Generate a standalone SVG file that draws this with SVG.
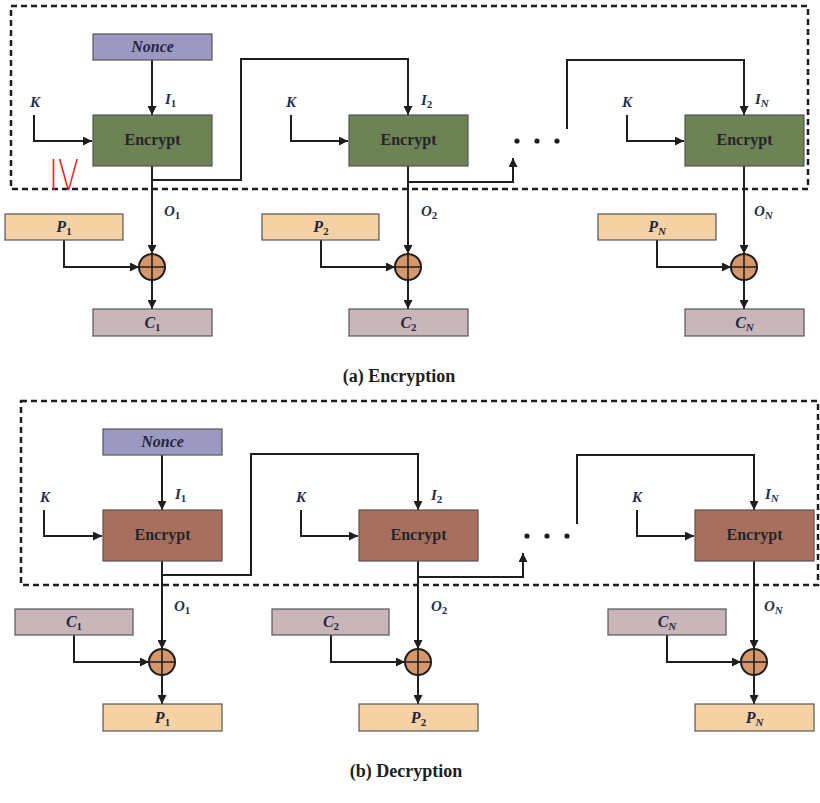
<svg xmlns="http://www.w3.org/2000/svg" width="820" height="803" viewBox="0 0 820 803">
<style>
.frame{fill:none;stroke:#1e1e1e;stroke-width:2.5;stroke-dasharray:6 4}
.box{stroke:#555;stroke-width:1.2}
.nonce{fill:#9b99c2}
.encA{fill:#6d8255}
.encB{fill:#a96f5e}
.pt{fill:#f4d2a4}
.ct{fill:#c9b6ba}
.xor{fill:#d5966b;stroke:#1e1e1e;stroke-width:2}
.xl{stroke:#1e1e1e;stroke-width:1.6}
.ln{fill:none;stroke:#1e1e1e;stroke-width:2}
.arr{fill:none;stroke:#1e1e1e;stroke-width:2;marker-end:url(#ah)}
.bt{font-family:"Liberation Serif",serif;font-weight:bold;font-size:16px;fill:#262626;text-anchor:middle}
.it{font-family:"Liberation Serif",serif;font-weight:bold;font-style:italic;font-size:16px;fill:#262640;text-anchor:middle}
.lb{font-family:"Liberation Serif",serif;font-weight:bold;font-style:italic;font-size:15px;fill:#23304a}
.sub{font-size:11px;font-style:normal}
.subi{font-size:11px}
.cap{font-family:"Liberation Serif",serif;font-weight:bold;font-size:18px;fill:#1e1e1e;text-anchor:middle}
.dot{fill:#1e1e1e}
</style>
<defs>
<marker id="ah" viewBox="0 0 10 10" refX="10" refY="5" markerWidth="4.5" markerHeight="4.5" orient="auto" markerUnits="strokeWidth">
<path d="M0,0 L10,5 L0,10 z" fill="#1e1e1e"/>
</marker>
</defs>
<rect x="0" y="0" width="820" height="803" fill="#ffffff"/>

<!-- ===== (a) Encryption ===== -->
<rect class="frame" x="11" y="6" width="797" height="183"/>

<g id="connectors-a">
<path class="arr" d="M152 60 V115"/>
<path class="arr" d="M34 115 V141 H92"/>
<path class="arr" d="M291 115 V141 H348"/>
<path class="arr" d="M627 115 V141 H684"/>
<path class="arr" d="M152 166 V254"/>
<path class="arr" d="M152 180 H241 V59 H408 V115"/>
<path class="arr" d="M408 166 V254"/>
<path class="arr" d="M408 182 H513 V158"/>
<path class="arr" d="M567 129 V60 H744 V115"/>
<path class="arr" d="M744 166 V254"/>
<path class="arr" d="M64 240 V267 H139"/>
<path class="arr" d="M321 240 V267 H395"/>
<path class="arr" d="M657 240 V267 H731"/>
<path class="arr" d="M152 280 V309"/>
<path class="arr" d="M408 280 V309"/>
<path class="arr" d="M744 280 V309"/>
<circle class="dot" cx="517" cy="141" r="2.6"/>
<circle class="dot" cx="537" cy="141" r="2.6"/>
<circle class="dot" cx="557" cy="141" r="2.6"/>
</g>

<g id="a-labels">
<text class="lb" x="30" y="107">K</text>
<text class="lb" x="286" y="107">K</text>
<text class="lb" x="622" y="107">K</text>
<text class="lb" x="165" y="104">I<tspan class="sub" dy="3">1</tspan></text>
<text class="lb" x="421" y="105">I<tspan class="sub" dy="3">2</tspan></text>
<text class="lb" x="755" y="104">I<tspan class="subi" dy="3">N</tspan></text>
<text class="lb" x="164" y="216">O<tspan class="sub" dy="3">1</tspan></text>
<text class="lb" x="421" y="216">O<tspan class="sub" dy="3">2</tspan></text>
<text class="lb" x="754" y="216">O<tspan class="subi" dy="3">N</tspan></text>
</g>

<g id="a-nonce"><rect class="box nonce" x="93" y="34" width="119" height="26"/><text class="it" x="152.5" y="52">Nonce</text></g>
<g id="a-enc1"><rect class="box encA" x="93" y="115" width="119" height="51"/><text class="bt" x="152.5" y="145">Encrypt</text></g>
<g id="a-enc2"><rect class="box encA" x="349" y="115" width="119" height="51"/><text class="bt" x="408.5" y="145">Encrypt</text></g>
<g id="a-encN"><rect class="box encA" x="685" y="115" width="119" height="51"/><text class="bt" x="744.5" y="145">Encrypt</text></g>
<g id="a-p1"><rect class="box pt" x="5" y="214" width="118" height="26"/><text class="it" x="64" y="232">P<tspan class="sub" dy="3">1</tspan></text></g>
<g id="a-p2"><rect class="box pt" x="262" y="214" width="117" height="26"/><text class="it" x="321" y="232">P<tspan class="sub" dy="3">2</tspan></text></g>
<g id="a-pN"><rect class="box pt" x="598" y="214" width="118" height="26"/><text class="it" x="657" y="232">P<tspan class="subi" dy="3">N</tspan></text></g>
<g id="a-x1"><circle class="xor" cx="152" cy="267" r="13"/><path class="xl" d="M139 267 H165 M152 254 V280"/></g>
<g id="a-x2"><circle class="xor" cx="408" cy="267" r="13"/><path class="xl" d="M395 267 H421 M408 254 V280"/></g>
<g id="a-xN"><circle class="xor" cx="744" cy="267" r="13"/><path class="xl" d="M731 267 H757 M744 254 V280"/></g>
<g id="a-c1"><rect class="box ct" x="93" y="309" width="119" height="27"/><text class="it" x="152.5" y="328">C<tspan class="sub" dy="3">1</tspan></text></g>
<g id="a-c2"><rect class="box ct" x="349" y="309" width="119" height="27"/><text class="it" x="408.5" y="328">C<tspan class="sub" dy="3">2</tspan></text></g>
<g id="a-cN"><rect class="box ct" x="685" y="309" width="119" height="27"/><text class="it" x="744.5" y="328">C<tspan class="subi" dy="3">N</tspan></text></g>

<text x="49" y="190" font-family="DejaVu Sans, sans-serif" font-weight="200" font-size="42" fill="#ee1c24" textLength="30" lengthAdjust="spacingAndGlyphs">IV</text>

<text class="cap" x="399" y="382">(a) Encryption</text>

<!-- ===== (b) Decryption ===== -->
<rect class="frame" x="21" y="401" width="797" height="184"/>

<g id="connectors-b">
<path class="arr" d="M162 455 V510"/>
<path class="arr" d="M44 510 V536 H102"/>
<path class="arr" d="M301 510 V536 H358"/>
<path class="arr" d="M637 510 V536 H694"/>
<path class="arr" d="M162 561 V649"/>
<path class="arr" d="M162 575 H251 V454 H418 V510"/>
<path class="arr" d="M418 561 V649"/>
<path class="arr" d="M418 577 H523 V553"/>
<path class="arr" d="M577 524 V455 H754 V510"/>
<path class="arr" d="M754 561 V649"/>
<path class="arr" d="M74 635 V662 H149"/>
<path class="arr" d="M331 635 V662 H405"/>
<path class="arr" d="M667 635 V662 H741"/>
<path class="arr" d="M162 675 V704"/>
<path class="arr" d="M418 675 V704"/>
<path class="arr" d="M754 675 V704"/>
<circle class="dot" cx="527" cy="536" r="2.6"/>
<circle class="dot" cx="547" cy="536" r="2.6"/>
<circle class="dot" cx="567" cy="536" r="2.6"/>
</g>

<g id="b-labels">
<text class="lb" x="40" y="502">K</text>
<text class="lb" x="296" y="502">K</text>
<text class="lb" x="632" y="502">K</text>
<text class="lb" x="175" y="499">I<tspan class="sub" dy="3">1</tspan></text>
<text class="lb" x="431" y="500">I<tspan class="sub" dy="3">2</tspan></text>
<text class="lb" x="765" y="499">I<tspan class="subi" dy="3">N</tspan></text>
<text class="lb" x="174" y="611">O<tspan class="sub" dy="3">1</tspan></text>
<text class="lb" x="431" y="611">O<tspan class="sub" dy="3">2</tspan></text>
<text class="lb" x="764" y="611">O<tspan class="subi" dy="3">N</tspan></text>
</g>

<g id="b-nonce"><rect class="box nonce" x="103" y="429" width="119" height="26"/><text class="it" x="162.5" y="447">Nonce</text></g>
<g id="b-enc1"><rect class="box encB" x="103" y="510" width="119" height="51"/><text class="bt" x="162.5" y="540">Encrypt</text></g>
<g id="b-enc2"><rect class="box encB" x="359" y="510" width="119" height="51"/><text class="bt" x="418.5" y="540">Encrypt</text></g>
<g id="b-encN"><rect class="box encB" x="695" y="510" width="119" height="51"/><text class="bt" x="754.5" y="540">Encrypt</text></g>
<g id="b-c1"><rect class="box ct" x="15" y="609" width="118" height="26"/><text class="it" x="74" y="627">C<tspan class="sub" dy="3">1</tspan></text></g>
<g id="b-c2"><rect class="box ct" x="272" y="609" width="117" height="26"/><text class="it" x="331" y="627">C<tspan class="sub" dy="3">2</tspan></text></g>
<g id="b-cN"><rect class="box ct" x="608" y="609" width="118" height="26"/><text class="it" x="667" y="627">C<tspan class="subi" dy="3">N</tspan></text></g>
<g id="b-x1"><circle class="xor" cx="162" cy="662" r="13"/><path class="xl" d="M149 662 H175 M162 649 V675"/></g>
<g id="b-x2"><circle class="xor" cx="418" cy="662" r="13"/><path class="xl" d="M405 662 H431 M418 649 V675"/></g>
<g id="b-xN"><circle class="xor" cx="754" cy="662" r="13"/><path class="xl" d="M741 662 H767 M754 649 V675"/></g>
<g id="b-p1"><rect class="box pt" x="103" y="704" width="119" height="27"/><text class="it" x="162.5" y="723">P<tspan class="sub" dy="3">1</tspan></text></g>
<g id="b-p2"><rect class="box pt" x="359" y="704" width="119" height="27"/><text class="it" x="418.5" y="723">P<tspan class="sub" dy="3">2</tspan></text></g>
<g id="b-pN"><rect class="box pt" x="695" y="704" width="119" height="27"/><text class="it" x="754.5" y="723">P<tspan class="subi" dy="3">N</tspan></text></g>

<text class="cap" x="406" y="777">(b) Decryption</text>
</svg>
